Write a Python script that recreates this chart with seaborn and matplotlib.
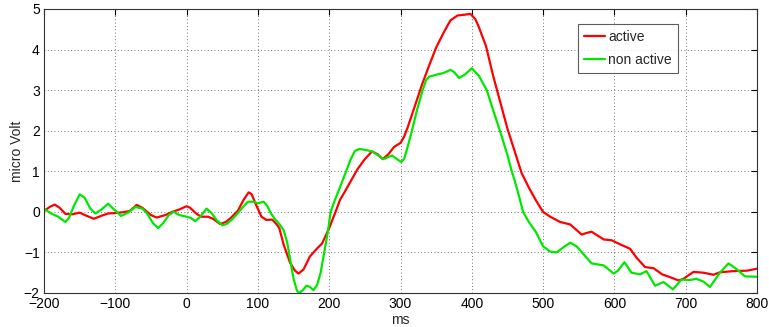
import numpy as np
import pandas as pd
import matplotlib
matplotlib.use("Agg")
import matplotlib.pyplot as plt
import seaborn as sns

t_active = [-200, -192, -185, -178, -170, -160, -150, -140, -130, -120, -110, -100, -90, -80, -70, -62,
            -50, -42, -30, -20, -10, 0, 5, 12, 20, 30, 37, 47, 55, 62, 72, 80, 87, 91, 98, 105, 112,
            120, 126, 130, 136, 145, 152, 157, 164, 173, 182, 190, 200, 210, 215, 222, 230, 240, 250,
            260, 268, 275, 283, 291, 300, 305, 310, 320, 330, 340, 350, 360, 370, 380, 390, 398, 405,
            410, 420, 430, 440, 450, 460, 470, 480, 490, 500, 510, 524, 538, 547, 554, 561, 568, 576,
            585, 596, 608, 622, 631, 643, 655, 667, 678, 690, 697, 705, 711, 725, 739, 748, 767, 786, 800]
v_active = [0.02, 0.12, 0.18, 0.1, -0.05, -0.06, -0.02, -0.1, -0.17, -0.1, -0.04, -0.03, -0.01, 0.02, 0.17, 0.1,
            -0.08, -0.14, -0.08, 0.0, 0.06, 0.14, 0.1, -0.02, -0.12, -0.12, -0.17, -0.3, -0.25, -0.15, 0.03, 0.3, 0.48, 0.44, 0.15, -0.12, -0.2,
            -0.19, -0.3, -0.4, -0.8, -1.25, -1.45, -1.52, -1.42, -1.1, -0.92, -0.78, -0.4, 0.05, 0.29, 0.5, 0.75, 1.06, 1.3,
            1.49, 1.42, 1.3, 1.42, 1.6, 1.7, 1.85, 2.08, 2.6, 3.13, 3.6, 4.05, 4.4, 4.72, 4.84, 4.86, 4.88, 4.75,
            4.55, 4.08, 3.35, 2.7, 2.05, 1.5, 0.95, 0.6, 0.28, 0.0, -0.12, -0.25, -0.31, -0.45, -0.56, -0.52, -0.49, -0.58,
            -0.68, -0.7, -0.8, -0.91, -1.13, -1.36, -1.39, -1.54, -1.61, -1.69, -1.65, -1.55, -1.48, -1.5, -1.55, -1.49, -1.46, -1.45, -1.4]

t_nonactive = [-200, -190, -180, -170, -165, -158, -150, -143, -135, -128, -120, -110, -103, -92, -82, -72, -62,
               -55, -47, -40, -33, -25, -18, -10, 0, 6, 12, 19, 28, 35, 42, 50, 56, 63, 70, 78, 86, 94, 100,
               108, 113, 118, 124, 130, 136, 141, 146, 150, 155, 158, 163, 168, 173, 178, 183, 188, 193, 198,
               202, 208, 215, 222, 230, 236, 242, 250, 260, 268, 276, 283, 288, 295, 301, 305, 310, 316, 323,
               331, 336, 340, 350, 360, 370, 375, 382, 390, 400, 410, 421, 430, 440, 450, 456, 460, 466, 472,
               480, 490, 500, 510, 519, 528, 538, 547, 557, 568, 585, 599, 605, 614, 624, 636, 645, 657, 669,
               682, 694, 706, 715, 725, 734, 748, 760, 772, 783, 800]
v_nonactive = [0.08, -0.04, -0.12, -0.25, -0.15, 0.15, 0.43, 0.35, 0.08, -0.04, 0.05, 0.2, 0.08, -0.1, -0.02, 0.12, 0.08,
               -0.05, -0.28, -0.4, -0.28, -0.08, 0.0, -0.08, -0.12, -0.15, -0.23, -0.12, 0.08, -0.03, -0.2, -0.33, -0.3, -0.2, -0.07, 0.1, 0.25, 0.25, 0.21,
               0.25, 0.15, -0.03, -0.18, -0.3, -0.45, -0.75, -1.25, -1.65, -1.95, -2.0, -1.93, -1.82, -1.85, -1.93, -1.8, -1.5, -1.0, -0.5,
               0.0, 0.29, 0.6, 0.92, 1.29, 1.5, 1.55, 1.53, 1.49, 1.4, 1.3, 1.35, 1.39, 1.3, 1.23, 1.3, 1.6, 2.0, 2.5,
               3.0, 3.25, 3.33, 3.38, 3.42, 3.5, 3.45, 3.3, 3.38, 3.54, 3.35, 3.0, 2.5, 1.97, 1.4, 1.0, 0.78, 0.4, 0.0,
               -0.25, -0.5, -0.85, -0.98, -1.0, -0.88, -0.76, -0.85, -1.05, -1.27, -1.32, -1.52, -1.45, -1.24, -1.5, -1.54, -1.46, -1.82, -1.73,
               -1.91, -1.67, -1.68, -1.65, -1.72, -1.85, -1.5, -1.27, -1.42, -1.59, -1.6]

labels = ["active", "non active"]
x_ticks = [-200, -100, 0, 100, 200, 300, 400, 500, 600, 700, 800]
y_ticks = [-2, -1, 0, 1, 2, 3, 4, 5]

df = pd.concat([
    pd.DataFrame({"ms": t_active, "v": v_active, "cond": labels[0]}),
    pd.DataFrame({"ms": t_nonactive, "v": v_nonactive, "cond": labels[1]}),
], ignore_index=True)

sns.set_style("white")
plt.rcParams['font.family'] = ['Liberation Sans', 'DejaVu Sans']

fig = plt.figure(figsize=(7.69, 3.27), dpi=100)
ax = fig.add_axes([44/769, 1-293/327, 713/769, 284/327])

sns.lineplot(data=df, x="ms", y="v", hue="cond", palette={labels[0]: "#ff0000", labels[1]: "#00e800"},
             linewidth=1.6, ax=ax, sort=False, estimator=None)

ax.set_xlim(-200, 800)
ax.set_ylim(-2, 5)
ax.set_xticks(x_ticks)
ax.set_yticks(y_ticks)
ax.grid(True, linestyle=(0, (1, 3)), color="#444444", linewidth=0.6)
ax.tick_params(direction="in", length=4, width=0.8, top=True, right=True, labelsize=10, colors="#000000", pad=3)
for s in ax.spines.values():
    s.set_color("#333333")
    s.set_linewidth(0.8)
ax.set_xlabel("ms", fontsize=10, labelpad=1)
ax.set_ylabel("micro Volt", fontsize=10, labelpad=0)

leg = ax.legend(loc="upper right", bbox_to_anchor=((678-44)/713, (293-24)/284), borderaxespad=0,
                fancybox=False, frameon=True, fontsize=10, handlelength=1.5, handletextpad=0.25,
                borderpad=0.45, labelspacing=0.6)
leg.get_frame().set_edgecolor("#333333")
leg.get_frame().set_linewidth(0.8)

fig.savefig("out.png", dpi=100)
